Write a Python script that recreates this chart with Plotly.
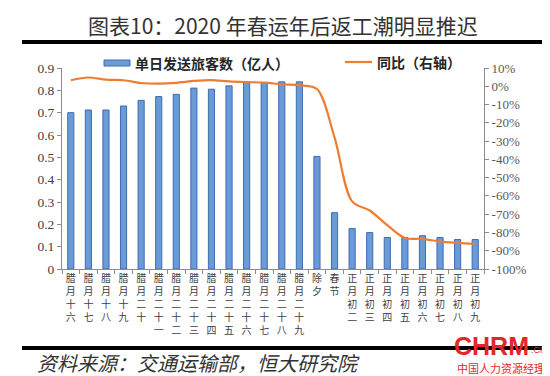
import plotly.graph_objects as go

# ---------------- data ----------------
categories = ["腊月十六", "腊月十七", "腊月十八", "腊月十九", "腊月二十", "腊月二十一",
              "腊月二十二", "腊月二十三", "腊月二十四", "腊月二十五", "腊月二十六",
              "腊月二十七", "腊月二十八", "腊月二十九", "除夕", "春节",
              "正月初二", "正月初三", "正月初四", "正月初五", "正月初六",
              "正月初七", "正月初八", "正月初九"]
passengers = [0.70, 0.712, 0.712, 0.73, 0.755, 0.772, 0.782, 0.81, 0.805, 0.82,
              0.835, 0.835, 0.838, 0.838, 0.504, 0.252, 0.181, 0.163, 0.141, 0.141,
              0.149, 0.141, 0.132, 0.132]
yoy = [0.033, 0.048, 0.036, 0.033, 0.018, 0.015, 0.019, 0.029, 0.034, 0.027,
       0.023, 0.020, 0.011, 0.006, -0.015, -0.28, -0.63, -0.68, -0.76, -0.83,
       -0.835, -0.85, -0.857, -0.862]
bar_name = "单日发送旅客数（亿人）"
line_name = "同比（右轴）"
left_ticks = [0, 0.1, 0.2, 0.3, 0.4, 0.5, 0.6, 0.7, 0.8, 0.9]
left_labels = ["0", "0.1", "0.2", "0.3", "0.4", "0.5", "0.6", "0.7", "0.8", "0.9"]
right_ticks = [0.1, 0, -0.1, -0.2, -0.3, -0.4, -0.5, -0.6, -0.7, -0.8, -0.9, -1.0]
right_labels = ["10%", "0%", "-10%", "-20%", "-30%", "-40%", "-50%", "-60%",
                "-70%", "-80%", "-90%", "-100%"]
title_text = "图表10：2020 年春运年后返工潮明显推迟"
source_text = "资料来源：交通运输部，恒大研究院"

# ---------------- layout helpers ----------------
W, H = 550, 376
L, R, T, B = 54, 74, 60, 115
PW, PH = W - L - R, H - T - B


def px(x):
    return (x - L) / PW


def py(y):
    return (H - B - y) / PH


tick_text = ["<br>".join(list(c)) for c in categories]

BLUE = "#6a9bd8"
BLUE_EDGE = "#3d6cb0"
ORANGE = "#ED7D31"
AXIS = "#8c8c8c"
CJK = "Noto Sans CJK SC"
SERIF = "Liberation Serif, Noto Sans CJK SC"

fig = go.Figure()
fig.add_trace(go.Bar(x=categories, y=passengers, name=bar_name,
                     marker=dict(color=BLUE, line=dict(color=BLUE_EDGE, width=1)),
                     yaxis="y"))
fig.add_trace(go.Scatter(x=categories, y=yoy, name=line_name, mode="lines",
                         line=dict(color=ORANGE, width=2.2, shape="spline", smoothing=0.9),
                         yaxis="y2"))

fig.update_layout(
    width=W, height=H,
    margin=dict(l=L, r=R, t=T, b=B),
    paper_bgcolor="white", plot_bgcolor="white",
    showlegend=False,
    bargap=0.65,
    xaxis=dict(type="category", tickmode="array", tickvals=categories, ticktext=tick_text,
               tickson="boundaries", ticks="outside", ticklen=4, tickcolor=AXIS,
               showline=True, linecolor=AXIS, linewidth=1, showgrid=False,
               tickangle=0, tickfont=dict(family=SERIF, size=10, color="#404040")),
    yaxis=dict(range=[0, 0.9], tickmode="array", tickvals=left_ticks, ticktext=left_labels,
               ticks="outside", ticklen=4, tickcolor=AXIS, showline=True, linecolor=AXIS,
               linewidth=1, showgrid=False, zeroline=False,
               tickfont=dict(family=SERIF, size=13.5, color="#404040")),
    yaxis2=dict(range=[-1.0, 0.1], overlaying="y", side="right", tickmode="array",
                tickvals=right_ticks, ticktext=right_labels, ticks="outside", ticklen=4,
                tickcolor=AXIS, showline=True, linecolor=AXIS, linewidth=1,
                showgrid=False, zeroline=False,
                tickfont=dict(family=SERIF, size=13, color="#595959")),
)

shapes = [
    dict(type="line", xref="paper", yref="paper", x0=px(14), x1=px(537), y0=py(34), y1=py(34),
         line=dict(color="black", width=4)),
    dict(type="line", xref="paper", yref="paper", x0=px(14), x1=px(537), y0=py(340), y1=py(340),
         line=dict(color="black", width=4)),
    # legend markers
    dict(type="rect", xref="paper", yref="paper", x0=px(96), x1=px(122), y0=py(58), y1=py(52),
         fillcolor=BLUE, line=dict(color=BLUE_EDGE, width=1)),
    dict(type="line", xref="paper", yref="paper", x0=px(337), x1=px(364), y0=py(54), y1=py(54),
         line=dict(color=ORANGE, width=2.2)),
]
fig.update_layout(shapes=shapes)

annotations = [
    dict(text=title_text, x=px(275), y=py(17), xref="paper", yref="paper",
         xanchor="center", yanchor="middle", showarrow=False,
         font=dict(family=CJK, size=21, color="#333333")),
    dict(text="<i>" + source_text + "</i>", x=px(27), y=py(354), xref="paper", yref="paper",
         xanchor="left", yanchor="middle", showarrow=False,
         font=dict(family=CJK, size=20, color="#333333")),
    dict(text="<b>" + bar_name + "</b>", x=px(125), y=py(55), xref="paper", yref="paper",
         xanchor="left", yanchor="middle", showarrow=False,
         font=dict(family=CJK, size=14, color="#262626")),
    dict(text="<b>" + line_name + "</b>", x=px(367), y=py(54), xref="paper", yref="paper",
         xanchor="left", yanchor="middle", showarrow=False,
         font=dict(family=CJK, size=14, color="#262626")),
    # watermark
    dict(text="<b>CHRM</b>", x=px(444), y=py(338), xref="paper", yref="paper",
         xanchor="left", yanchor="middle", showarrow=False,
         font=dict(family="Liberation Sans", size=25, color="#e3262b")),
    dict(text=".CN", x=px(521), y=py(342), xref="paper", yref="paper",
         xanchor="left", yanchor="middle", showarrow=False,
         font=dict(family="Liberation Sans", size=9, color="#e3262b")),
    dict(text="中国人力资源经理", x=px(493), y=py(360), xref="paper", yref="paper",
         xanchor="center", yanchor="middle", showarrow=False,
         font=dict(family=CJK, size=11, color="#e3262b")),
]
fig.update_layout(annotations=annotations)

fig.write_html("out.html")
